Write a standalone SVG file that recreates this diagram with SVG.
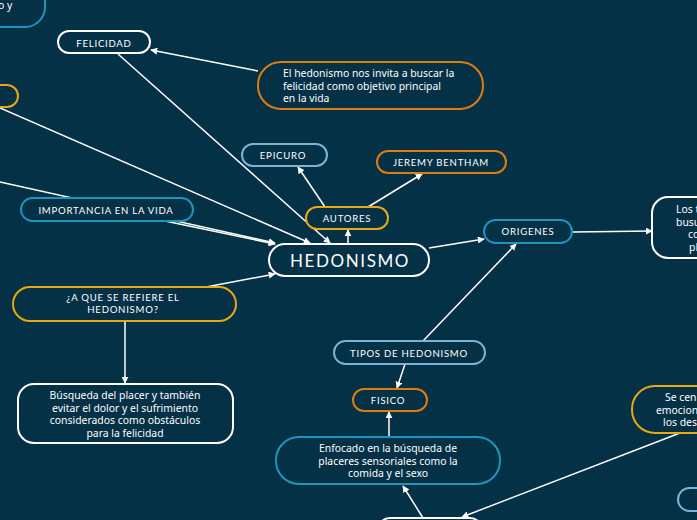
<svg xmlns="http://www.w3.org/2000/svg" width="697" height="520" viewBox="0 0 697 520">
<defs>
<marker id="arr" viewBox="0 0 10 10" refX="9" refY="5" markerWidth="7" markerHeight="7" orient="auto" markerUnits="userSpaceOnUse"><path d="M0,0 L10,5 L0,10 z" fill="#ffffff"/></marker>
<style>
.bg{fill:#043146}
.n{fill:#043146;stroke-width:2}
.w{stroke:#ffffff}
.y{stroke:#e6a912}
.o{stroke:#e07b10}
.t{stroke:#1e96bb}
.l{stroke:#7ab4d6}
.lab{font-family:Lato,"Noto Sans",sans-serif;font-size:9.6px;letter-spacing:0.75px;fill:#ffffff;text-anchor:middle}
.txt{font-family:"Noto Sans",Lato,sans-serif;font-size:10.4px;fill:#ffffff;text-anchor:middle}
.big{font-family:Lato,"Noto Sans",sans-serif;font-size:17px;letter-spacing:1.6px;fill:#ffffff;text-anchor:middle}
.c line{stroke:#ffffff;stroke-width:1.5;marker-end:url(#arr)}
</style>
</defs>
<rect class="bg" x="0" y="0" width="697" height="520"/>
<g class="c" id="connectors">
<line x1="258" y1="71" x2="151" y2="50"/>
<line x1="118" y1="54" x2="330" y2="243"/>
<line x1="0" y1="108" x2="310" y2="243"/>
<line x1="0" y1="182" x2="275" y2="243"/>
<line x1="165" y1="221" x2="275" y2="244"/>
<line x1="206" y1="287" x2="275" y2="274"/>
<line x1="348" y1="243" x2="348" y2="230"/>
<line x1="325" y1="207" x2="298" y2="167"/>
<line x1="368" y1="207" x2="422" y2="174"/>
<line x1="429" y1="248" x2="484" y2="239"/>
<line x1="573" y1="232" x2="652" y2="231"/>
<line x1="423" y1="341" x2="516" y2="244"/>
<line x1="405" y1="364" x2="397" y2="388"/>
<line x1="389" y1="437" x2="389" y2="412"/>
<line x1="423" y1="518" x2="403" y2="486"/>
<line x1="680" y1="433" x2="462" y2="517"/>
<line x1="125" y1="322" x2="125" y2="383"/>
</g>
<g id="n-topleft"><rect class="n t" x="-60" y="-30" width="105" height="57" rx="20"/><text class="txt" x="-2" y="9" style="text-anchor:start">o y</text></g>
<g id="n-felicidad"><rect class="n w" x="58" y="31" width="92" height="22" rx="11"/><text class="lab" x="104" y="46.5">FELICIDAD</text></g>
<g id="n-invita"><rect class="n o" x="258" y="62" width="225" height="47" rx="23"/>
<text class="txt" style="text-anchor:start" x="283" y="77">El hedonismo nos invita a buscar la</text>
<text class="txt" style="text-anchor:start" x="283" y="89.5">felicidad como objetivo principal</text>
<text class="txt" style="text-anchor:start" x="283" y="102">en la vida</text></g>
<g id="n-leftyellow"><rect class="n y" x="-40" y="85" width="58" height="22" rx="11"/></g>
<g id="n-epicuro"><rect class="n l" x="242" y="144" width="85" height="22" rx="11"/><text class="lab" x="283" y="159">EPICURO</text></g>
<g id="n-bentham"><rect class="n o" x="377" y="151" width="129" height="22" rx="11"/><text class="lab" x="441" y="166">JEREMY BENTHAM</text></g>
<g id="n-autores"><rect class="n y" x="306" y="207" width="82" height="22" rx="11"/><text class="lab" x="347" y="222">AUTORES</text></g>
<g id="n-importancia"><rect class="n t" x="21" y="198" width="172" height="23" rx="11.5"/><text class="lab" x="106" y="213.5">IMPORTANCIA EN LA VIDA</text></g>
<g id="n-hedonismo"><rect class="n w" x="269" y="244" width="160" height="32" rx="16"/><text class="big" x="350" y="266.5">HEDONISMO</text></g>
<g id="n-origenes"><rect class="n t" x="484" y="220" width="88" height="23" rx="11.5"/><text class="lab" x="528" y="235">ORIGENES</text></g>
<g id="n-los"><rect class="n w" x="652" y="197" width="120" height="61" rx="16"/>
<text class="txt" style="text-anchor:start" x="676" y="213">Los t</text>
<text class="txt" style="text-anchor:start" x="676" y="225.5">busu</text>
<text class="txt" style="text-anchor:start" x="688" y="238">co</text>
<text class="txt" style="text-anchor:start" x="689" y="250.5">pl</text></g>
<g id="n-refiere"><rect class="n y" x="13" y="287" width="223" height="34" rx="17"/>
<text class="lab" x="123" y="301">¿A QUE SE REFIERE EL</text>
<text class="lab" x="123" y="313">HEDONISMO?</text></g>
<g id="n-busqueda"><rect class="n w" x="18" y="384" width="215" height="59" rx="16"/>
<text class="txt" x="125" y="399">Búsqueda del placer y también</text>
<text class="txt" x="125" y="411.5">evitar el dolor y el sufrimiento</text>
<text class="txt" x="125" y="424">considerados como obstáculos</text>
<text class="txt" x="125" y="436.5">para la felicidad</text></g>
<g id="n-tipos"><rect class="n l" x="334" y="341" width="151" height="23" rx="11.5"/><text class="lab" x="409" y="356.5">TIPOS DE HEDONISMO</text></g>
<g id="n-fisico"><rect class="n o" x="353" y="389" width="74" height="22" rx="11"/><text class="lab" x="388" y="404">FISICO</text></g>
<g id="n-enfocado"><rect class="n t" x="276" y="437" width="224" height="47" rx="23"/>
<text class="txt" x="388" y="452">Enfocado en la búsqueda de</text>
<text class="txt" x="388" y="464.5">placeres sensoriales como la</text>
<text class="txt" x="388" y="477">comida y el sexo</text></g>
<g id="n-bottom"><rect class="n w" x="378" y="518" width="104" height="30" rx="12"/></g>
<g id="n-secentra"><rect class="n y" x="632" y="386" width="130" height="47" rx="23"/>
<text class="txt" style="text-anchor:start" x="665" y="401">Se cen</text>
<text class="txt" style="text-anchor:start" x="656" y="413.5">emocion</text>
<text class="txt" style="text-anchor:start" x="663" y="426">los des</text></g>
<g id="n-bottomright"><rect class="n l" x="678" y="488" width="60" height="23" rx="11.5"/></g>
</svg>
